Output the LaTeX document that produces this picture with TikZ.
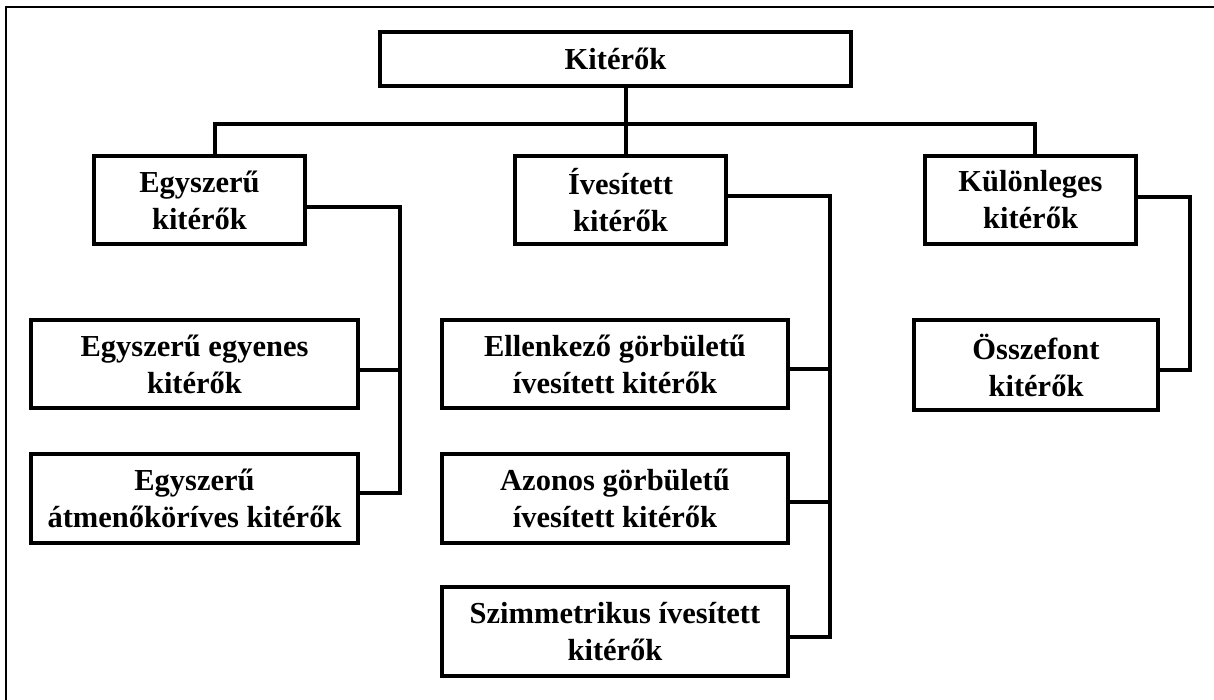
\documentclass[tikz,border=0pt]{standalone}
\usepackage{fontspec}
\setmainfont{Liberation Serif}
\begin{document}
\begin{tikzpicture}[x=1pt,y=-1pt,
  box/.style={draw=black,line width=4pt,fill=white,inner sep=0pt,
    align=center,font=\fontsize{30.5}{37}\selectfont\bfseries},
  link/.style={line width=4pt,line join=miter},
  frame/.style={line width=2pt}]
\useasboundingbox (0,0) rectangle (1214,700);
% open frame: top and left edges only
\draw[frame] (6,701) -- (6,7) -- (1215,7);

% root
\node[box,minimum width=471pt,minimum height=54pt] (kit) at (615.5,59) {Kitérők};

% second level
\node[box,minimum width=211pt,minimum height=88pt] (egy) at (199.5,200) {Egyszerű\\kitérők};
\node[box,minimum width=211pt,minimum height=88pt] (ives) at (620.5,200) {Ívesített\\kitérők};
\node[box,minimum width=211pt,minimum height=88pt] (kul) at (1030.5,200) {Különleges\\kitérők};

% leaves under "Egyszerű"
\node[box,minimum width=327pt,minimum height=88pt] (egyenes) at (194.5,364) {Egyszerű egyenes\\kitérők};
\node[box,minimum width=327pt,minimum height=89pt] (atmeno) at (194.5,498.5) {Egyszerű\\átmenőköríves kitérők};

% leaves under "Ívesített"
\node[box,minimum width=346pt,minimum height=88pt] (ellen) at (615,364) {Ellenkező görbületű\\ívesített kitérők};
\node[box,minimum width=346pt,minimum height=89pt] (azonos) at (615,498.5) {Azonos görbületű\\ívesített kitérők};
\node[box,minimum width=346pt,minimum height=89pt] (szimm) at (615,631.5) {Szimmetrikus ívesített\\kitérők};

% leaf under "Különleges"
\node[box,minimum width=244pt,minimum height=90pt] (ossze) at (1036,365) {Összefont\\kitérők};

% bus below the root
\coordinate (busL) at (215,124);
\coordinate (busM) at (626,124);
\coordinate (busR) at (1035,124);
\draw[link] (kit.south -| busM) -- (busM);
\draw[link] (egy.north -| busL) -- (busL) -- (busR) -- (kul.north -| busR);
\draw[link] (busM) -- (ives.north -| busM);

% side rail of "Egyszerű"
\coordinate (railA) at (400,207);
\draw[link] (egy.east |- railA) -- (railA) -- (400,493) -- (atmeno.east |- 0,493);
\draw[link] (egyenes.east |- 0,370) -- (400,370);

% side rail of "Ívesített"
\coordinate (railB) at (830,196);
\draw[link] (ives.east |- railB) -- (railB) -- (830,637) -- (szimm.east |- 0,637);
\draw[link] (ellen.east |- 0,369) -- (830,369);
\draw[link] (azonos.east |- 0,502) -- (830,502);

% side rail of "Különleges"
\coordinate (railC) at (1190,197);
\draw[link] (kul.east |- railC) -- (railC) -- (1190,370) -- (ossze.east |- 0,370);
\end{tikzpicture}
\end{document}
